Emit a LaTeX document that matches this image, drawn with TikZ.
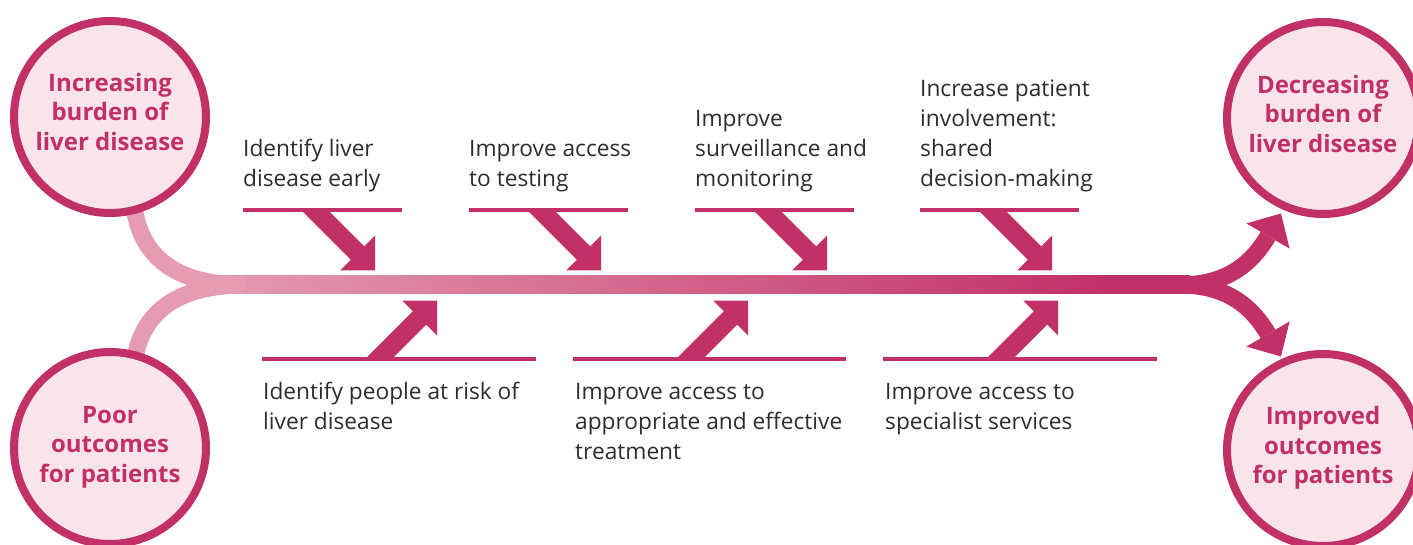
\documentclass[tikz,border=0pt]{standalone}
\usepackage{fontspec}
\setmainfont{Open Sans}
\definecolor{mag}{RGB}{193,48,103}
\definecolor{pinkL}{RGB}{229,155,178}
\definecolor{pinkF}{RGB}{249,228,236}
\definecolor{txt}{RGB}{45,45,45}
\pgfdeclarehorizontalshading{spineshade}{100bp}{color(0bp)=(pinkL); color(25bp)=(pinkL); color(71bp)=(mag); color(100bp)=(mag)}
\tikzset{
  endcircle/.style={circle, draw=mag, line width=8pt, fill=pinkF, minimum size=192pt, inner sep=0pt},
  endtext/.style={text=mag, font=\fontsize{24}{29.5}\selectfont\bfseries, align=center, inner sep=0pt},
  steptext/.style={text=txt, font=\fontsize{22.7}{30}\selectfont, align=left, anchor=base west, inner sep=0pt},
  stepline/.style={draw=mag, line width=4pt},
  branch/.style={draw=pinkL, line width=17pt},
  outarrow/.style={draw=mag, line width=17pt},
  pics/downarrow/.style={code={\fill[mag] (-73.4,0) -- (-46.6,0) -- (-10.8,35.8) -- (0,25) -- (0,60) -- (-35,60) -- (-24.2,49.2) -- cycle;}},
  pics/uparrow/.style={code={\fill[mag] (-71.4,0) -- (-24.2,-47.2) -- (-35,-58) -- (0,-58) -- (0,-23) -- (-10.8,-33.8) -- (-44.6,0) -- cycle;}}
}
\begin{document}
\begin{tikzpicture}[x=1pt,y=-1pt]
\useasboundingbox (0,0) rectangle (1413,545);
% spine
\coordinate (spineA) at (205,276);
\coordinate (spineB) at (1190,294);
\shade[shading=spineshade] (spineA) rectangle (spineB);
% left branches
\coordinate (tlb) at (133,195);
\coordinate (blb) at (133,375);
\coordinate (merge) at (245,285);
\draw[branch] (tlb) .. controls +(3,65) and +(-65,0) .. (merge);
\draw[branch] (blb) .. controls +(3,-65) and +(-65,0) .. (merge);
% right arrows
\coordinate (split) at (1180,285);
\coordinate (tophead) at (1268,236);
\coordinate (bothead) at (1268,334);
\draw[outarrow] (split) .. controls +(45,0) and +(-17,29) .. (tophead);
\draw[outarrow] (split) .. controls +(45,0) and +(-17,-29) .. (bothead);
\fill[mag] (1246.4,223.4) -- (1281,213.5) -- (1289.6,248.6) -- cycle;
\fill[mag] (1246.4,346.6) -- (1281,356.5) -- (1289.6,321.4) -- cycle;
% top step lines and arrows
\draw[stepline] (243,210.5) -- (402,210.5);
\draw[stepline] (469,210.5) -- (628,210.5);
\draw[stepline] (695,210.5) -- (854,210.5);
\draw[stepline] (920,210.5) -- (1079,210.5);
\pic at (375,210.5) {downarrow};
\pic at (601,210.5) {downarrow};
\pic at (827,210.5) {downarrow};
\pic at (1052,210.5) {downarrow};
% bottom step lines and arrows
\draw[stepline] (262,358.5) -- (536,358.5);
\draw[stepline] (573,358.5) -- (846,358.5);
\draw[stepline] (883,358.5) -- (1157,358.5);
\pic at (437,358.5) {uparrow};
\pic at (748,358.5) {uparrow};
\pic at (1058,358.5) {uparrow};
% circles
\node[endcircle] (c1) at (110,117) {};
\node[endcircle] (c2) at (110,448) {};
\node[endcircle] (c3) at (1323,118) {};
\node[endcircle] (c4) at (1323,450) {};
\node[endtext] (c1t) at (110,112) {Increasing\\burden of\\liver disease};
\node[endtext] (c2t) at (110,447) {Poor\\outcomes\\for patients};
\node[endtext] (c3t) at (1323,114) {Decreasing\\burden of\\liver disease};
\node[endtext] (c4t) at (1323,448) {Improved\\outcomes\\for patients};
% step texts (base anchor = last line baseline)
\node[steptext] (s1) at (243,187) {Identify liver\\disease early};
\node[steptext] (s2) at (469,187) {Improve access\\to testing};
\node[steptext] (s3) at (695,187) {Improve\\surveillance and\\monitoring};
\node[steptext] (s4) at (920,187) {Increase patient\\involvement:\\shared\\decision-making};
\node[steptext] (s5) at (263,429) {Identify people at risk of\\liver disease};
\node[steptext] (s6) at (575,459) {Improve access to\\appropriate and effective\\treatment};
\node[steptext] (s7) at (885,429) {Improve access to\\specialist services};
\end{tikzpicture}
\end{document}
